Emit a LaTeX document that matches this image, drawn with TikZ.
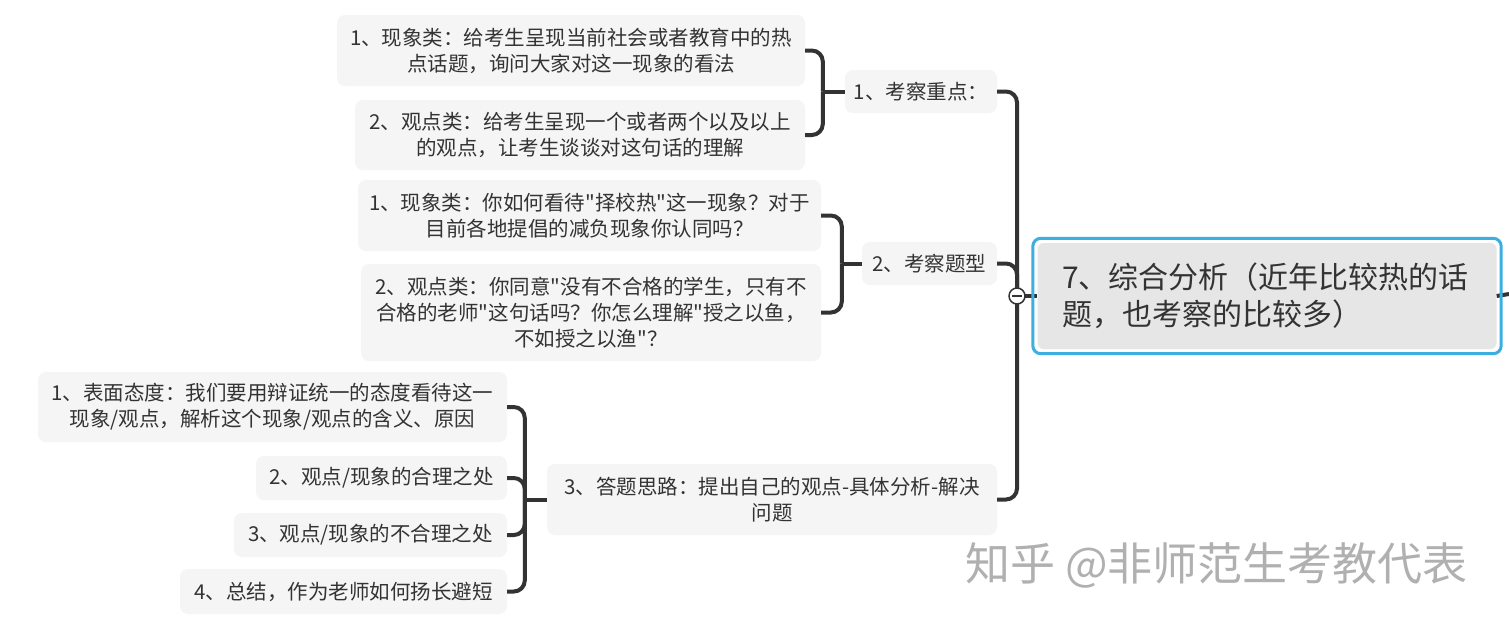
\documentclass[tikz,border=0pt]{standalone}
\usepackage{fontspec}
\setmainfont{Noto Sans CJK SC}
\newfontfamily\cjk{Noto Sans CJK SC}
\usetikzlibrary{calc}
\definecolor{txt}{HTML}{333333}
\definecolor{boxbg}{HTML}{F5F5F5}
\definecolor{linec}{HTML}{333333}
\definecolor{rootbg}{HTML}{E6E6E6}
\definecolor{rootblue}{HTML}{3DAEE0}
\definecolor{wmc}{HTML}{B0B0B0}
\begin{document}
\begin{tikzpicture}[x=1pt,y=-1pt,
  leaf/.style={fill=boxbg, rounded corners=8pt, text=txt, align=center, inner sep=0pt,
    font=\cjk\fontsize{20.5}{26}\selectfont},
  conn/.style={draw=linec, line width=4pt, rounded corners=11pt},
]
\useasboundingbox[fill=white] (0,0) rectangle (1509,627);

% level-1 nodes
\node[leaf, minimum width=152, minimum height=43] (N1) at (921,91.5) {1、考察重点：};
\node[leaf, minimum width=135, minimum height=43] (N2) at (929.5,263.5) {2、考察题型};
\node[leaf, minimum width=450, minimum height=71] (N3) at (772,499.5) {3、答题思路：提出自己的观点-具体分析-解决\\问题};

% level-2 nodes
\node[leaf, minimum width=468, minimum height=71] (A1) at (571,50.5) {1、现象类：给考生呈现当前社会或者教育中的热\\点话题，询问大家对这一现象的看法};
\node[leaf, minimum width=450, minimum height=70] (A2) at (580,135) {2、观点类：给考生呈现一个或者两个以及以上\\的观点，让考生谈谈对这句话的理解};
\node[leaf, minimum width=463, minimum height=71] (B1) at (589.5,215.5) {1、现象类：你如何看待"择校热"这一现象？对于\\目前各地提倡的减负现象你认同吗？};
\node[leaf, minimum width=460, minimum height=97] (B2) at (591,312.5) {2、观点类：你同意"没有不合格的学生，只有不\\合格的老师"这句话吗？你怎么理解"授之以鱼，\\不如授之以渔"？};
\node[leaf, minimum width=469, minimum height=70] (C1) at (272.5,407) {1、表面态度：我们要用辩证统一的态度看待这一\\现象/观点，解析这个现象/观点的含义、原因};
\node[leaf, minimum width=251, minimum height=44] (C2) at (381.5,478) {2、观点/现象的合理之处};
\node[leaf, minimum width=273, minimum height=44] (C3) at (370.5,535) {3、观点/现象的不合理之处};
\node[leaf, minimum width=327, minimum height=45] (C4) at (343.5,591.5) {4、总结，作为老师如何扬长避短};

% junctions
\coordinate (jA) at ($(N1.west)+(-22pt,0)$);
\coordinate (jB) at ($(N2.west)+(-20pt,0)$);
\coordinate (jC) at ($(N3.west)+(-22pt,0)$);
\coordinate (tg) at (1017,296);

% brackets
\draw[conn] (A1.east) -| (jA);
\draw[conn] (A2.east) -| (jA);
\draw[conn] (jA) -- (N1.west);
\draw[conn] (B1.east) -| (jB);
\draw[conn] (B2.east) -| (jB);
\draw[conn] (jB) -- (N2.west);
\draw[conn] (C1.east) -| (jC);
\draw[conn] (C2.east) -| (jC);
\draw[conn] (C3.east) -| (jC);
\draw[conn] (C4.east) -| (jC);
\draw[conn] (jC) -- (N3.west);

% trunk
\draw[conn] (N1.east) -| (tg);
\draw[conn] (N2.east) -| (tg);
\draw[conn] (N3.east) -| (tg);

% root
\node[fill=rootbg, rounded corners=6pt, text width=410pt, inner xsep=24.5pt, inner ysep=0pt,
  minimum height=106, align=left, text=txt, font=\cjk\fontsize{30}{37}\selectfont] (root) at (1267,296)
  {7、综合分析（近年比较热的话\\题，也考察的比较多）};
\coordinate (offr) at (1509,294);
\draw[conn] (tg) -- (root.west);
\draw[linec, line width=4pt] (root.east) -- (offr);
\draw[rootblue, line width=3pt, rounded corners=8pt]
  ($(root.south west)+(-4.5pt,-4.5pt)$) rectangle ($(root.north east)+(4.5pt,4.5pt)$);

% toggle
\node[circle, draw=linec, line width=1.5pt, fill=white, minimum size=16pt, inner sep=0pt] (tog) at (tg) {};
\draw[linec, line width=1.5pt] ($(tog.center)+(-5pt,0)$) -- ($(tog.center)+(5pt,0)$);

% watermark
\node[text=wmc, font=\cjk\fontsize{45}{45}\selectfont, anchor=west, inner sep=0pt] (wm) at (965,565) {知乎 @非师范生考教代表};
\end{tikzpicture}
\end{document}
